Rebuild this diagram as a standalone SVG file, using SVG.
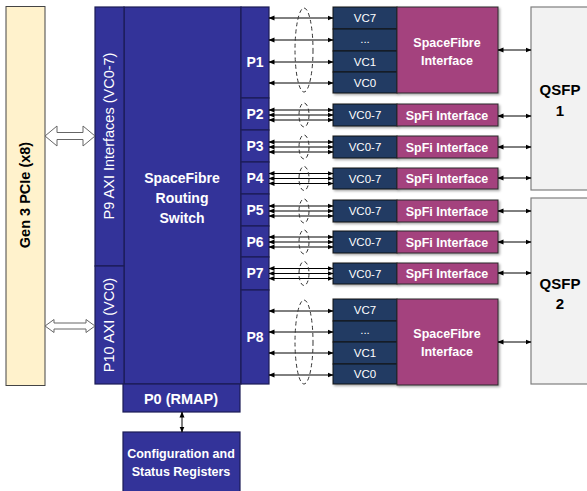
<svg xmlns="http://www.w3.org/2000/svg" width="587" height="491" viewBox="0 0 587 491">
<style>
.sw{fill:#333399;stroke:#1c1c55;stroke-width:1.2}
.vc{fill:#213a64;stroke:#111;stroke-width:1}
.pk{fill:#a4427e;stroke:#2a2a2a;stroke-width:1}
.qs{fill:#f2f2f2;stroke:#7f7f7f;stroke-width:1.2}
.t{font-family:"Liberation Sans",Arial,sans-serif;fill:#fff;text-anchor:middle}
.b{font-weight:bold}
.k{fill:#000}
.ar{stroke:#000;stroke-width:1;fill:none;marker-start:url(#ah);marker-end:url(#ah)}
.el{fill:none;stroke:#333;stroke-width:1;stroke-dasharray:4 3}
.ho{fill:#fff;stroke:#666;stroke-width:1}
</style>
<defs>
<marker id="ah" markerUnits="userSpaceOnUse" markerWidth="6" markerHeight="6" refX="5.5" refY="3" orient="auto-start-reverse"><path d="M0,0.5 L6,3 L0,5.5 Z" fill="#000"/></marker>
<filter id="sh" x="-10%" y="-10%" width="130%" height="130%"><feDropShadow dx="1.5" dy="1.5" stdDeviation="1" flood-color="#000" flood-opacity="0.35"/></filter>
</defs>
<rect width="587" height="491" fill="#fff"/>

<g id="pcie">
<rect x="6" y="6.5" width="39" height="379" fill="#fff2cc" stroke="#444" stroke-width="1"/>
<text class="t b k" font-size="14.5" transform="translate(30,195) rotate(-90)">Gen 3 PCIe (x8)</text>
</g>

<g id="switch">
<rect class="sw" x="124" y="7" width="117" height="377"/>
<text class="t b" font-size="14" x="182" y="183">SpaceFibre</text>
<text class="t b" font-size="14" x="182" y="203">Routing</text>
<text class="t b" font-size="14" x="182" y="223">Switch</text>
</g>
<g id="p9">
<rect class="sw" x="95" y="7" width="29" height="259"/>
<text class="t" font-size="14.5" transform="translate(114,136) rotate(-90)">P9 AXI Interfaces (VC0-7)</text>
</g>
<g id="p10">
<rect class="sw" x="95" y="266" width="29" height="118"/>
<text class="t" font-size="14.5" transform="translate(114,325) rotate(-90)">P10 AXI (VC0)</text>
</g>
<g id="p0">
<rect class="sw" x="123" y="384" width="117" height="28"/>
<text class="t b" font-size="14.5" x="181" y="403.5">P0 (RMAP)</text>
</g>
<g id="config">
<rect class="sw" x="123" y="432" width="117" height="60"/>
<text class="t b" font-size="12.5" x="181" y="457.5">Configuration and</text>
<text class="t b" font-size="12.5" x="181" y="475.5">Status Registers</text>
</g>

<g id="ports">
<rect class="sw" x="241" y="7" width="28" height="91"/>
<text class="t b" font-size="14" x="255" y="67">P1</text>
<rect class="sw" x="241" y="98" width="28" height="32"/>
<text class="t b" font-size="14" x="255" y="119">P2</text>
<rect class="sw" x="241" y="130" width="28" height="32"/>
<text class="t b" font-size="14" x="255" y="151">P3</text>
<rect class="sw" x="241" y="162" width="28" height="32"/>
<text class="t b" font-size="14" x="255" y="183">P4</text>
<rect class="sw" x="241" y="194" width="28" height="32"/>
<text class="t b" font-size="14" x="255" y="215">P5</text>
<rect class="sw" x="241" y="226" width="28" height="31"/>
<text class="t b" font-size="14" x="255" y="247">P6</text>
<rect class="sw" x="241" y="257" width="28" height="33"/>
<text class="t b" font-size="14" x="255" y="278">P7</text>
<rect class="sw" x="241" y="290" width="28" height="94"/>
<text class="t b" font-size="14" x="255" y="342">P8</text>
</g>

<g id="vc-p1" filter="url(#sh)">
<rect class="vc" x="333" y="7" width="64" height="22"/>
<rect class="vc" x="333" y="29" width="64" height="22"/>
<rect class="vc" x="333" y="51" width="64" height="21"/>
<rect class="vc" x="333" y="72" width="64" height="21"/>
</g>
<g id="vc-p1-text">
<text class="t" font-size="11.5" x="365" y="22">VC7</text>
<text class="t" font-size="11.5" x="365" y="43">...</text>
<text class="t" font-size="11.5" x="365" y="66">VC1</text>
<text class="t" font-size="11.5" x="365" y="87">VC0</text>
</g>
<g id="sfi1">
<rect class="pk" x="397" y="7" width="101" height="86" filter="url(#sh)"/>
<text class="t b" font-size="12.5" x="447" y="47">SpaceFibre</text>
<text class="t b" font-size="12.5" x="447" y="65">Interface</text>
</g>

<g id="vc-p8" filter="url(#sh)">
<rect class="vc" x="333" y="299" width="64" height="22"/>
<rect class="vc" x="333" y="321" width="64" height="21"/>
<rect class="vc" x="333" y="342" width="64" height="22"/>
<rect class="vc" x="333" y="364" width="64" height="20"/>
</g>
<g id="vc-p8-text">
<text class="t" font-size="11.5" x="365" y="314">VC7</text>
<text class="t" font-size="11.5" x="365" y="334">...</text>
<text class="t" font-size="11.5" x="365" y="357">VC1</text>
<text class="t" font-size="11.5" x="365" y="378">VC0</text>
</g>
<g id="sfi8">
<rect class="pk" x="397" y="299" width="101" height="86" filter="url(#sh)"/>
<text class="t b" font-size="12.5" x="447" y="338">SpaceFibre</text>
<text class="t b" font-size="12.5" x="447" y="356">Interface</text>
</g>

<g id="vc-p2"><rect class="vc" x="333" y="104" width="64" height="22" filter="url(#sh)"/><text class="t" font-size="11.5" x="365" y="119">VC0-7</text></g>
<g id="sfi2"><rect class="pk" x="397" y="104" width="101" height="22" filter="url(#sh)"/><text class="t b" font-size="12.5" x="447" y="120">SpFi Interface</text></g>
<g id="vc-p3"><rect class="vc" x="333" y="136" width="64" height="22" filter="url(#sh)"/><text class="t" font-size="11.5" x="365" y="151">VC0-7</text></g>
<g id="sfi3"><rect class="pk" x="397" y="136" width="101" height="22" filter="url(#sh)"/><text class="t b" font-size="12.5" x="447" y="152">SpFi Interface</text></g>
<g id="vc-p4"><rect class="vc" x="333" y="168" width="64" height="21" filter="url(#sh)"/><text class="t" font-size="11.5" x="365" y="182.5">VC0-7</text></g>
<g id="sfi4"><rect class="pk" x="397" y="168" width="101" height="21" filter="url(#sh)"/><text class="t b" font-size="12.5" x="447" y="183">SpFi Interface</text></g>
<g id="vc-p5"><rect class="vc" x="333" y="200" width="64" height="22" filter="url(#sh)"/><text class="t" font-size="11.5" x="365" y="215">VC0-7</text></g>
<g id="sfi5"><rect class="pk" x="397" y="200" width="101" height="22" filter="url(#sh)"/><text class="t b" font-size="12.5" x="447" y="216">SpFi Interface</text></g>
<g id="vc-p6"><rect class="vc" x="333" y="231" width="64" height="22" filter="url(#sh)"/><text class="t" font-size="11.5" x="365" y="246">VC0-7</text></g>
<g id="sfi6"><rect class="pk" x="397" y="231" width="101" height="22" filter="url(#sh)"/><text class="t b" font-size="12.5" x="447" y="247">SpFi Interface</text></g>
<g id="vc-p7"><rect class="vc" x="333" y="263" width="64" height="21" filter="url(#sh)"/><text class="t" font-size="11.5" x="365" y="277.5">VC0-7</text></g>
<g id="sfi7"><rect class="pk" x="397" y="263" width="101" height="21" filter="url(#sh)"/><text class="t b" font-size="12.5" x="447" y="278">SpFi Interface</text></g>

<g id="qsfp1">
<rect class="qs" x="531" y="7" width="60" height="183"/>
<text class="t b k" font-size="15" x="560" y="95">QSFP</text>
<text class="t b k" font-size="15" x="560" y="116">1</text>
</g>
<g id="qsfp2">
<rect class="qs" x="531" y="198" width="60" height="186"/>
<text class="t b k" font-size="15" x="560" y="289">QSFP</text>
<text class="t b k" font-size="15" x="560" y="309">2</text>
</g>

<g id="connectors">
<path class="ho" d="M45,136 L57,126 L57,132.5 L83,132.5 L83,126 L95,136 L83,146 L83,139.5 L57,139.5 L57,146 Z"/>
<path class="ho" d="M45,326 L54,319.5 L54,323 L86,323 L86,319.5 L95,326 L86,332.5 L86,329 L54,329 L54,332.5 Z"/>
<line class="ar" x1="182" y1="412" x2="182" y2="432"/>

<line class="ar" x1="269" y1="18" x2="333" y2="18"/>
<line class="ar" x1="269" y1="40" x2="333" y2="40"/>
<line class="ar" x1="269" y1="62" x2="333" y2="62"/>
<line class="ar" x1="269" y1="83" x2="333" y2="83"/>
<ellipse class="el" cx="304" cy="50" rx="9" ry="42"/>

<line class="ar" x1="269" y1="311" x2="333" y2="311"/>
<line class="ar" x1="269" y1="332" x2="333" y2="332"/>
<line class="ar" x1="269" y1="353" x2="333" y2="353"/>
<line class="ar" x1="269" y1="375" x2="333" y2="375"/>
<ellipse class="el" cx="304" cy="342" rx="9" ry="42"/>

<line class="ar" x1="269" y1="110" x2="333" y2="110"/>
<line class="ar" x1="269" y1="115" x2="333" y2="115"/>
<line class="ar" x1="269" y1="120" x2="333" y2="120"/>
<ellipse class="el" cx="304" cy="115" rx="5" ry="12"/>
<line class="ar" x1="269" y1="142" x2="333" y2="142"/>
<line class="ar" x1="269" y1="147" x2="333" y2="147"/>
<line class="ar" x1="269" y1="152" x2="333" y2="152"/>
<ellipse class="el" cx="304" cy="147" rx="5" ry="12"/>
<line class="ar" x1="269" y1="173.5" x2="333" y2="173.5"/>
<line class="ar" x1="269" y1="178.5" x2="333" y2="178.5"/>
<line class="ar" x1="269" y1="183.5" x2="333" y2="183.5"/>
<ellipse class="el" cx="304" cy="178.5" rx="5" ry="12"/>
<line class="ar" x1="269" y1="206" x2="333" y2="206"/>
<line class="ar" x1="269" y1="211" x2="333" y2="211"/>
<line class="ar" x1="269" y1="216" x2="333" y2="216"/>
<ellipse class="el" cx="304" cy="211" rx="5" ry="12"/>
<line class="ar" x1="269" y1="237" x2="333" y2="237"/>
<line class="ar" x1="269" y1="242" x2="333" y2="242"/>
<line class="ar" x1="269" y1="247" x2="333" y2="247"/>
<ellipse class="el" cx="304" cy="242" rx="5" ry="12"/>
<line class="ar" x1="269" y1="268.5" x2="333" y2="268.5"/>
<line class="ar" x1="269" y1="273.5" x2="333" y2="273.5"/>
<line class="ar" x1="269" y1="278.5" x2="333" y2="278.5"/>
<ellipse class="el" cx="304" cy="273.5" rx="5" ry="12"/>

<line class="ar" x1="498" y1="50" x2="531" y2="50"/>
<line class="ar" x1="498" y1="116" x2="531" y2="116"/>
<line class="ar" x1="498" y1="147" x2="531" y2="147"/>
<line class="ar" x1="498" y1="178" x2="531" y2="178"/>
<line class="ar" x1="498" y1="211" x2="531" y2="211"/>
<line class="ar" x1="498" y1="242" x2="531" y2="242"/>
<line class="ar" x1="498" y1="273" x2="531" y2="273"/>
<line class="ar" x1="498" y1="342" x2="531" y2="342"/>
</g>
</svg>
